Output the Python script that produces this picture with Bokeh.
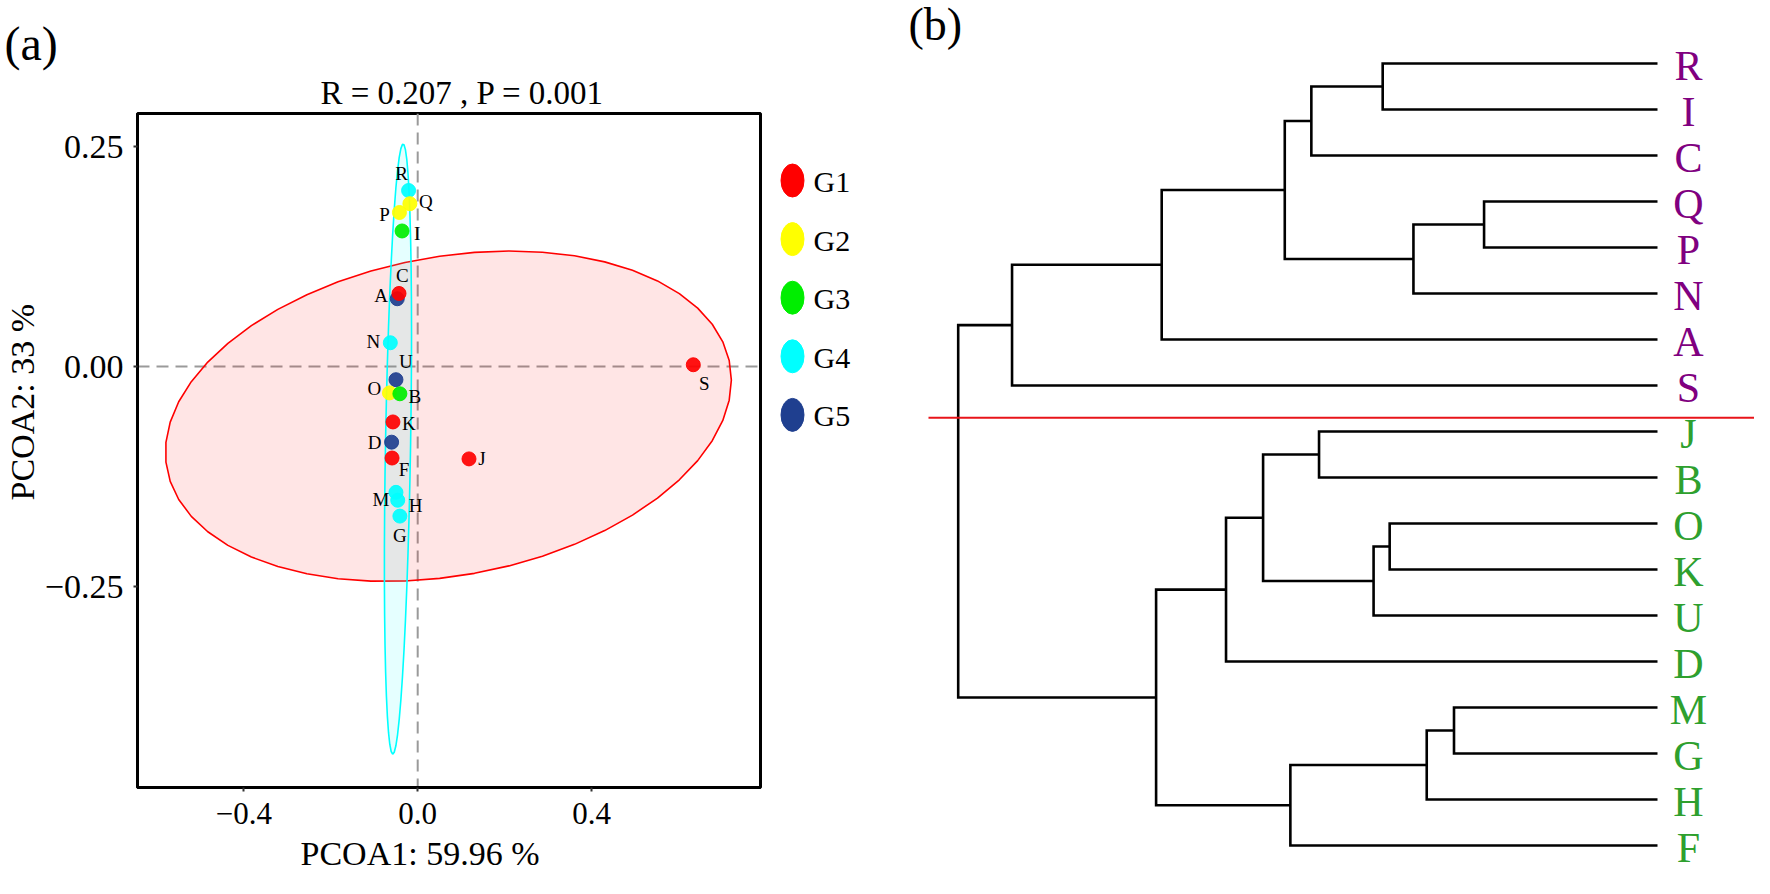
import numpy as np
from bokeh.plotting import figure
from bokeh.models import Range1d, FixedTicker, Span, ColumnDataSource, Title
from bokeh.layouts import row
from bokeh.embed import file_html
from bokeh.resources import INLINE
from bokeh.core.properties import value

FONT = "Liberation Serif"

# ---------------- data : PCoA (panel a) ----------------
sample_names = ["R", "Q", "P", "I", "C", "A", "N", "U", "O", "B", "K", "D", "F", "J", "M", "H", "G", "S"]
sample_groups = ["G4", "G2", "G2", "G3", "G5", "G1", "G4", "G5", "G2", "G3", "G1", "G5", "G1", "G1", "G4", "G4", "G4", "G1"]
pcoa1 = [-0.021, -0.018, -0.042, -0.036, -0.047, -0.043, -0.063, -0.050, -0.065, -0.041, -0.057, -0.060, -0.059, 0.118, -0.050, -0.046, -0.041, 0.634]
pcoa2 = [0.200, 0.185, 0.175, 0.154, 0.077, 0.083, 0.027, -0.015, -0.030, -0.031, -0.063, -0.086, -0.104, -0.105, -0.143, -0.152, -0.170, 0.002]
group_names = ["G1", "G2", "G3", "G4", "G5"]
group_colors = ["#ff0000", "#ffff00", "#00ee00", "#00ffff", "#1f3f8f"]
ellipse_groups = ["G1", "G4"]
ellipse_level = 0.90
x_tick_values = [-0.4, 0.0, 0.4]
x_tick_labels = ["\u22120.4", "0.0", "0.4"]
y_tick_values = [-0.25, 0.0, 0.25]
y_tick_labels = ["\u22120.25", "0.00", "0.25"]
title_text = "R = 0.207 , P = 0.001"
x_label_text = "PCOA1: 59.96 %"
y_label_text = "PCOA2: 33 %"

# label offsets (screen px) for the sample names, like ggrepel placement
label_dx = [-7, 16, -15, 15, 5, -18, -17, 10, -15, 15, 16, -17, 12, 13, -15, 18, 0, 11]
label_dy = [-17, -2, 2, 3, -23, 2, -1, -18, -4, 3, 2, 0, 11, 0, 7, 5, 19, 19]

# ---------------- data : dendrogram (panel b) ----------------
leaf_order = ["R", "I", "C", "Q", "P", "N", "A", "S", "J", "B", "O", "K", "U", "D", "M", "G", "H", "F"]
leaf_cluster = ["top"] * 8 + ["bottom"] * 10
cluster_colors = {"top": "#800080", "bottom": "#2ea02e"}
merge_left = ["R", "m0", "Q", "m2", "m1", "m4", "m5", "J", "O", "m8", "m7", "m10", "M", "m12", "m13", "m11", "m6"]
merge_right = ["I", "C", "P", "N", "m3", "A", "S", "B", "K", "U", "m9", "D", "G", "H", "F", "m14", "m15"]
merge_height = [0.393, 0.495, 0.248, 0.349, 0.533, 0.709, 0.923, 0.484, 0.383, 0.406, 0.564, 0.617, 0.291, 0.330, 0.525, 0.717, 1.0]
cut_position = 7.7


def stat_ellipse(xs, ys, level=0.95, segments=51, nu=5, maxit=25, tol=0.01):
    """ggplot2 stat_ellipse(type='t'): MASS::cov.trob + F-quantile radius."""
    X = np.column_stack([xs, ys]).astype(float)
    n, p = X.shape
    wt = np.ones(n)
    loc = X.mean(axis=0)
    w = np.sqrt(wt)
    Xc = X - loc
    for _ in range(maxit):
        w0 = w
        Xc = X - loc
        sw = np.sqrt(w / w.sum())
        _, d, vt = np.linalg.svd(sw[:, None] * Xc, full_matrices=False)
        wX = Xc @ vt.T @ np.diag(1.0 / d)
        Q = (wX ** 2).sum(axis=1)
        w = wt * (nu + p) / (nu + Q)
        loc = (w[:, None] * X).sum(axis=0) / w.sum()
        if np.all(np.abs(w - w0) < tol):
            break
    sx = np.sqrt(w)[:, None] * Xc
    cov = sx.T @ sx / wt.sum()
    dfd = n - 1
    fq = dfd / 2.0 * ((1 - level) ** (-2.0 / dfd) - 1)
    radius = np.sqrt(2 * fq)
    U = np.linalg.cholesky(cov).T
    t = np.arange(segments + 1) * 2 * np.pi / segments
    circ = np.column_stack([np.cos(t), np.sin(t)])
    ell = loc + radius * circ @ U
    return list(ell[:, 0]), list(ell[:, 1])


color_of = dict(zip(group_names, group_colors))

# ---------------- panel (a) ----------------
W_A, H_A = 770, 878
FL, FT, FR, FB = 133, 113, 760, 787
X0, X1 = -0.6446, 0.7886
Y0, Y1 = -0.4784, 0.2875

pa = figure(width=W_A, height=H_A, x_range=Range1d(X0, X1), y_range=Range1d(Y0, Y1),
            output_backend="svg", toolbar_location=None, title=None,
            min_border_left=FL, min_border_top=FT, min_border_right=W_A - FR, min_border_bottom=H_A - FB)
pa.frame_align = False
pa.xgrid.grid_line_color = None
pa.ygrid.grid_line_color = None
pa.outline_line_color = "black"
pa.outline_line_width = 3
pa.outline_line_alpha = 1

for ax, tv, tl, fs in ((pa.xaxis, x_tick_values, x_tick_labels, "31px"), (pa.yaxis, y_tick_values, y_tick_labels, "34px")):
    ax.ticker = FixedTicker(ticks=tv)
    ax.major_label_overrides = dict(zip(tv, tl))
    ax.major_label_text_font = FONT
    ax.major_label_text_font_size = fs
    ax.major_label_text_color = "black"
    ax.axis_line_color = "black"
    ax.axis_line_width = 3
    ax.major_tick_in = 0
    ax.major_tick_out = 4
    ax.major_tick_line_width = 2
    ax.major_tick_line_color = "#333333"
    ax.minor_tick_line_color = None
pa.xaxis.major_label_standoff = 11
pa.yaxis.major_label_standoff = 10

pa.add_layout(Span(location=0, dimension="height", line_color="#9a9a9a", line_width=2, line_dash="12 7", level="underlay"))
pa.add_layout(Span(location=0, dimension="width", line_color="#9a9a9a", line_width=2, line_dash="12 7", level="underlay"))

for g in ellipse_groups:
    gx = [x for x, gg in zip(pcoa1, sample_groups) if gg == g]
    gy = [y for y, gg in zip(pcoa2, sample_groups) if gg == g]
    ex, ey = stat_ellipse(gx, gy, level=ellipse_level)
    pa.patch(ex, ey, fill_color=color_of[g], fill_alpha=0.1, line_color=color_of[g], line_width=1.6)

src = ColumnDataSource(dict(x=pcoa1, y=pcoa2, name=sample_names,
                            color=[color_of[g] for g in sample_groups],
                            ox=label_dx, oy=label_dy))
pa.scatter("x", "y", source=src, size=14, fill_color="color", line_color="color", fill_alpha=0.92, line_alpha=0.92)
pa.text("x", "y", text="name", source=src, x_offset="ox", y_offset="oy",
        text_font=value(FONT), text_font_size="19px", text_align="center", text_baseline="middle",
        text_color="black")

pa.add_layout(Title(text=title_text, align="left", offset=183, standoff=6, text_font=FONT,
                    text_font_size="33px", text_font_style="normal", text_color="black"), "above")
pa.add_layout(Title(text="(a)", align="left", offset=-FL, standoff=0, text_font=FONT,
                    text_font_size="48px", text_font_style="normal", text_color="black"), "above")
pa.add_layout(Title(text=x_label_text, align="left", offset=163, standoff=12, text_font=FONT,
                    text_font_size="34px", text_font_style="normal", text_color="black"), "below")
pa.add_layout(Title(text=y_label_text, align="left", offset=287, standoff=2, text_font=FONT,
                    text_font_size="34px", text_font_style="normal", text_color="black"), "left")

# ---------------- legend ----------------
W_L = 120
leg = figure(width=W_L, height=H_A, x_range=Range1d(770, 770 + W_L), y_range=Range1d(H_A, 0),
             x_axis_type=None, y_axis_type=None, output_backend="svg", toolbar_location=None,
             min_border=0, outline_line_color=None)
leg.frame_align = False
leg.xgrid.grid_line_color = None
leg.ygrid.grid_line_color = None
ly = [180 + 58.6 * i for i in range(len(group_names))]
leg.ellipse(x=[792] * len(group_names), y=ly, width=23, height=33, fill_color=group_colors,
            line_color=group_colors, line_width=1)
leg.text(x=[813] * len(group_names), y=ly, text=group_names, text_font=value(FONT), text_font_size="30px",
         text_align="left", text_baseline="middle", text_color="black", y_offset=1)

# ---------------- panel (b) dendrogram ----------------
W_B, H_B = 864, H_A
leaf_px_x = 767.0
h_scale = 699.3
y0_px, y_step = 63.0, 46.0
xb0 = leaf_px_x / h_scale
xb1 = (leaf_px_x - W_B) / h_scale
yb_top = -y0_px / y_step
yb_bot = (H_B - y0_px) / y_step

pb = figure(width=W_B, height=H_B, x_range=Range1d(xb0, xb1), y_range=Range1d(yb_bot, yb_top),
            x_axis_type=None, y_axis_type=None, output_backend="svg", toolbar_location=None,
            min_border=0, outline_line_color=None)
pb.frame_align = False
pb.xgrid.grid_line_color = None
pb.ygrid.grid_line_color = None

node_pos = {name: (0.0, float(i)) for i, name in enumerate(leaf_order)}
xs, ys = [], []
for k, (a, b, h) in enumerate(zip(merge_left, merge_right, merge_height)):
    ha, ya = node_pos[a]
    hb, yb = node_pos[b]
    xs.append([ha, h, h, hb])
    ys.append([ya, ya, yb, yb])
    node_pos["m%d" % k] = (h, (ya + yb) / 2.0)
pb.multi_line(xs, ys, line_color="black", line_width=2.6, line_join="miter")

pb.text(x=[0.0] * len(leaf_order), y=list(range(len(leaf_order))), text=leaf_order,
        text_color=[cluster_colors[c] for c in leaf_cluster], text_font=value(FONT), text_font_size="42px",
        text_align="center", text_baseline="middle", x_offset=31, y_offset=2)

pb.segment(x0=[(leaf_px_x - 38) / h_scale], y0=[cut_position], x1=[xb1], y1=[cut_position],
           line_color="#e8141a", line_width=2)

pb.text(x=[(leaf_px_x - 18) / h_scale], y=[yb_top], text=["(b)"], text_font=value(FONT), text_font_size="46px",
        text_align="left", text_baseline="top", text_color="black", y_offset=-2)

layout = row(pa, leg, pb)
open("out.html", "w").write(file_html(layout, INLINE))
